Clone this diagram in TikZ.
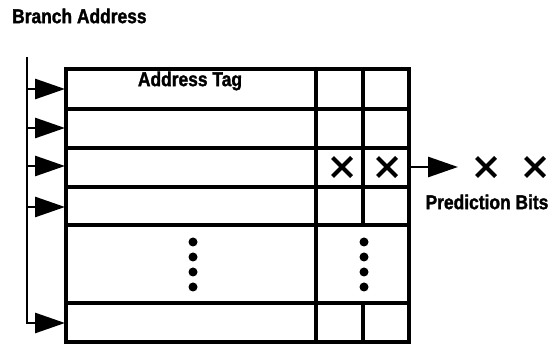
\documentclass[tikz,border=0pt]{standalone}
\usepackage{fontspec}
\setmainfont{Liberation Sans}[FakeStretch=0.87, BoldFeatures={FakeBold=1.5}]
\usetikzlibrary{arrows.meta, shapes.misc}
\tikzset{label/.style = {font = \fontsize{20}{22}\selectfont\bfseries, inner sep = 0pt}}
\tikzset{grid/.style = {line width = 3.5pt}}
\tikzset{feed/.style = {line width = 2.8pt, -{Triangle[length = 30pt, width = 20pt]}}}
\tikzset{bit/.style = {cross out, draw, line width = 4pt, minimum size = 15pt, inner sep = 0pt}}
\tikzset{dot/.style = {circle, fill, minimum size = 9pt, inner sep = 0pt}}

\begin{document}
\begin{tikzpicture}[x = 1pt, y = -1pt]
	\useasboundingbox (0, 0) rectangle (557, 344);

	\node[label, anchor = west] (branch) at (12, 16) {Branch Address};
	\node[label] (tag) at (190, 81) {Address Tag};
	\node[label] (pred) at (487, 202) {Prediction Bits};

	% table
	\draw[grid] (66, 69) rectangle (409, 342);
	\foreach \y in {109, 148, 187, 225, 303}
		\draw[grid] (66, \y) -- (409, \y);
	\draw[grid] (316, 69) -- (316, 342);
	\draw[grid] (363, 69) -- (363, 225);
	\draw[grid] (363, 303) -- (363, 342);

	% address bus
	\coordinate (top) at (27, 57);
	\coordinate (bot) at (27, 323);
	\draw[line width = 2.8pt] (top) -- (bot);
	\foreach \y [count = \i] in {89, 128, 166, 207, 323} {
		\coordinate (b\i) at (26, \y);
		\coordinate (r\i) at (65, \y);
		\draw[feed] (b\i) to (r\i);
	}

	% prediction bits
	\node[bit] (x1) at (342, 167) {};
	\node[bit] (x2) at (387, 167) {};
	\coordinate (out) at (408, 167);
	\coordinate (tip) at (458, 167);
	\draw[feed] (out) to (tip);
	\node[bit] (x3) at (486, 167) {};
	\node[bit] (x4) at (535, 167) {};

	% more rows
	\foreach \y in {242, 257, 272, 287} {
		\node[dot] at (193, \y) {};
		\node[dot] at (364, \y) {};
	}
\end{tikzpicture}
\end{document}
